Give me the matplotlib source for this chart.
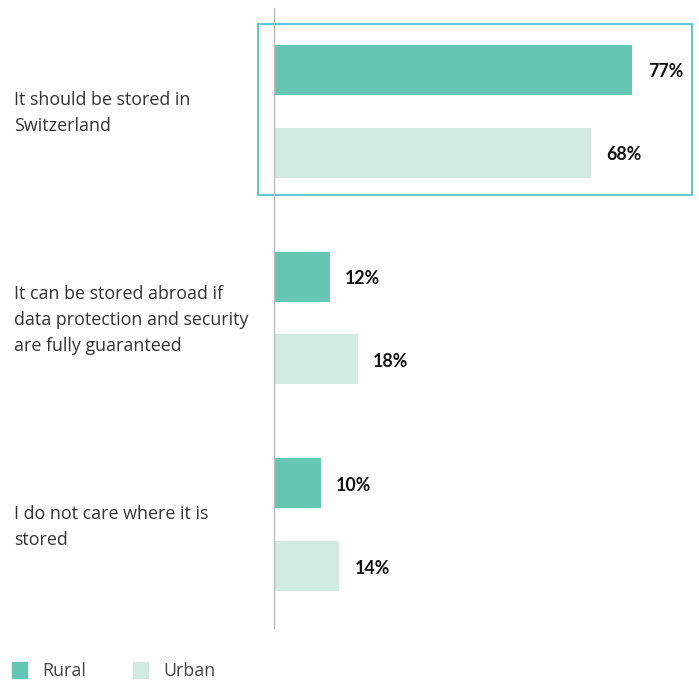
import matplotlib
matplotlib.use("Agg")
import matplotlib.pyplot as plt
from matplotlib.patches import Rectangle
import numpy as np

plt.rcParams['font.family'] = ['Open Sans', 'DejaVu Sans']

categories = [
    "It should be stored in\nSwitzerland",
    "It can be stored abroad if\ndata protection and security\nare fully guaranteed",
    "I do not care where it is\nstored",
]
rural = [77, 12, 10]
urban = [68, 18, 14]
series_names = ["Rural", "Urban"]

RURAL_C = "#65C6B4"
URBAN_C = "#D2EBE2"
BOX_C = "#4EC3CB"
TEXT_C = "#333333"

W, H = 699, 681
fig = plt.figure(figsize=(W / 100, H / 100), dpi=100)
ax = fig.add_axes([274 / W, (H - 628) / H, 419 / W, 620 / H])

groups = np.arange(len(categories))
off = 0.2005
bh = 0.2415
ax.barh(groups - off, rural, height=bh, color=RURAL_C, label=series_names[0])
ax.barh(groups + off, urban, height=bh, color=URBAN_C, label=series_names[1])

ax.set_xlim(0, 90)
ax.set_ylim(2.5, -0.5)

VAL_FONT = ['Lato', 'DejaVu Sans']
for y, v in zip(groups - off, rural):
    ax.annotate(f"{v}%", (v, y), xytext=(11, -1.5), textcoords="offset points",
                ha="left", va="center", fontsize=12.8, fontweight="bold",
                family=VAL_FONT, color="#111111")
for y, v in zip(groups + off, urban):
    ax.annotate(f"{v}%", (v, y), xytext=(11, -1.5), textcoords="offset points",
                ha="left", va="center", fontsize=12.8, fontweight="bold",
                family=VAL_FONT, color="#111111")

# category labels on the left
for g, c in zip(groups, categories):
    fig.text(14 / W, (ax.transData.transform((0, g))[1] - 2) / H, c, ha="left",
             va="center", fontsize=12.9, color=TEXT_C, linespacing=1.55)

# highlight frame around the first group
ax.add_patch(Rectangle((-3.4, -0.423), 93.2, 0.826, fill=False, edgecolor=BOX_C,
                       linewidth=1.3, clip_on=False))

for s in ["top", "right", "bottom"]:
    ax.spines[s].set_visible(False)
ax.spines["left"].set_color("#BDBDBD")
ax.spines["left"].set_linewidth(1.0)
ax.set_xticks([])
ax.set_yticks([])

# legend
fig.patches.append(Rectangle((12 / W, (H - 678) / H), 15 / W, 16 / H, color=RURAL_C,
                             transform=fig.transFigure))
fig.text(42 / W, (H - 671) / H, series_names[0], ha="left", va="center", fontsize=12.9,
         color="#444444")
fig.patches.append(Rectangle((133 / W, (H - 678) / H), 15 / W, 16 / H, color=URBAN_C,
                             transform=fig.transFigure))
fig.text(163 / W, (H - 671) / H, series_names[1], ha="left", va="center", fontsize=12.9,
         color="#444444")

fig.savefig("out.png", dpi=100)
